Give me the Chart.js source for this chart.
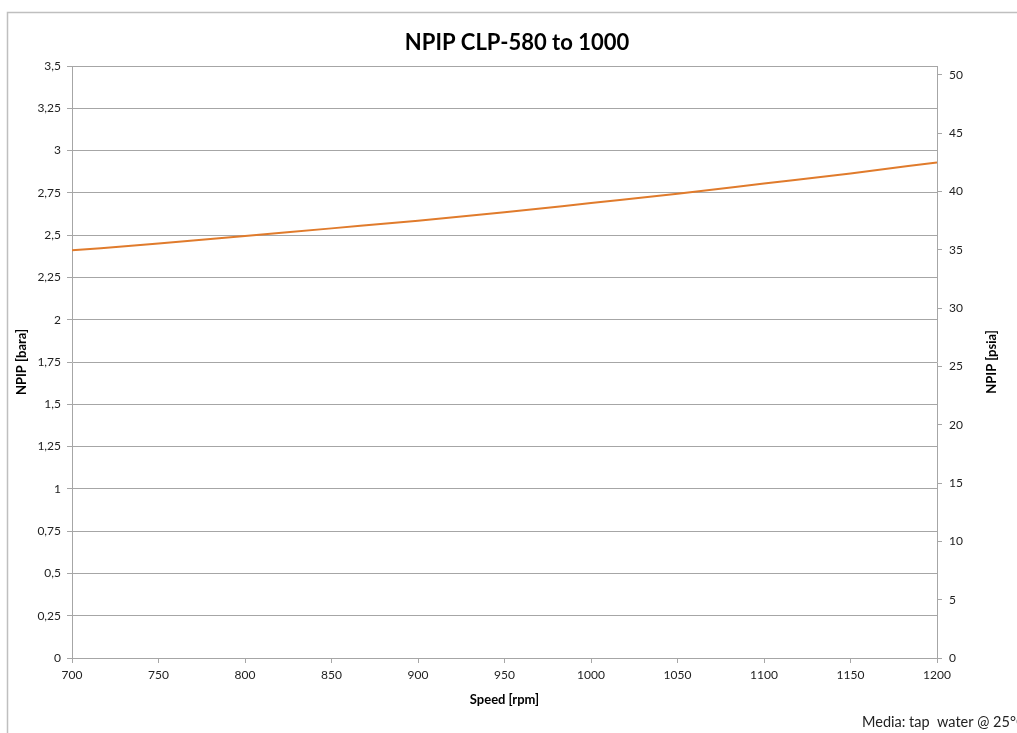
<!DOCTYPE html>
<html>
<head>
<meta charset="utf-8">
<script src="https://cdn.jsdelivr.net/npm/chart.js@4.4.1/dist/chart.umd.min.js"></script>
<style>
html,body{margin:0;padding:0;background:#fff;}
#wrap{width:1017px;height:733px;position:relative;}
</style>
</head>
<body>
<div id="wrap"><canvas id="c" width="1017" height="733"></canvas></div>
<script>
// Data
const speedRpm = [700, 750, 800, 850, 900, 950, 1000, 1050, 1100, 1150, 1200];
const npipBara = [2.41, 2.45, 2.495, 2.54, 2.585, 2.635, 2.69, 2.745, 2.805, 2.865, 2.93];
const xTicks = [700, 750, 800, 850, 900, 950, 1000, 1050, 1100, 1150, 1200];
const leftTicks = [0, 0.25, 0.5, 0.75, 1, 1.25, 1.5, 1.75, 2, 2.25, 2.5, 2.75, 3, 3.25, 3.5];
const rightTicks = [0, 5, 10, 15, 20, 25, 30, 35, 40, 45, 50];
const BAR_TO_PSI = 14.5038;

const titleText = 'NPIP CLP-580 to 1000';
const noteText = 'Media: tap  water @ 25°C';
const rightTitle = 'NPIP [psia]';

const FONT = 'Lato, "Open Sans", "Noto Sans", sans-serif';
const GRID = '#a6a6a6';
const TXT = '#222222';

const points = speedRpm.map((s, i) => ({x: s, y: npipBara[i]}));

const decorPlugin = {
  id: 'decor',
  beforeDraw(chart) {
    const ctx = chart.ctx;
    ctx.save();
    ctx.fillStyle = '#ffffff';
    ctx.fillRect(0, 0, chart.width, chart.height);
    ctx.strokeStyle = '#bfbfbf';
    ctx.lineWidth = 1.5;
    ctx.beginPath();
    ctx.moveTo(7.5, chart.height);
    ctx.lineTo(7.5, 12.5);
    ctx.lineTo(chart.width, 12.5);
    ctx.stroke();
    ctx.restore();
  },
  afterDraw(chart) {
    const ctx = chart.ctx;
    const ca = chart.chartArea;
    ctx.save();
    ctx.fillStyle = '#000';
    ctx.font = 'bold 22px ' + FONT;
    ctx.textAlign = 'center';
    ctx.textBaseline = 'middle';
    ctx.fillText(titleText, 517, 43);
    // right axis title, rotated like the left one
    ctx.save();
    ctx.translate(992, (ca.top + ca.bottom) / 2);
    ctx.rotate(-Math.PI / 2);
    ctx.font = 'bold 13px ' + FONT;
    ctx.fillText(rightTitle, 0, 0);
    ctx.restore();
    ctx.font = '14.5px ' + FONT;
    ctx.textAlign = 'left';
    ctx.fillStyle = TXT;
    ctx.fillText(noteText, 862, 722);
    ctx.restore();
  }
};

const fmt = v => String(v).replace('.', ',');

new Chart(document.getElementById('c'), {
  type: 'line',
  data: {
    datasets: [{
      data: points,
      borderColor: '#e07b2c',
      borderWidth: 2,
      pointRadius: 0,
      tension: 0.4,
      cubicInterpolationMode: 'monotone',
      fill: false,
      yAxisID: 'y'
    }]
  },
  options: {
    responsive: false,
    animation: false,
    devicePixelRatio: 1,
    layout: {padding: {top: 66, left: 0, right: 0, bottom: 0}},
    plugins: {legend: {display: false}, tooltip: {enabled: false}, title: {display: false}},
    scales: {
      x: {
        type: 'linear',
        min: 700, max: 1200,
        afterBuildTicks: s => { s.ticks = xTicks.map(v => ({value: v})); },
        afterFit: s => { s.height = 75; },
        grid: {drawOnChartArea: false, drawTicks: true, tickLength: 5, color: GRID},
        border: {color: GRID, width: 1},
        ticks: {color: TXT, font: {family: FONT, size: 12}, padding: 5, maxRotation: 0, callback: v => String(v)},
        title: {display: true, text: 'Speed [rpm]', color: '#000', font: {family: FONT, size: 13, weight: 'bold'}, padding: {top: 0, bottom: 25}}
      },
      y: {
        position: 'left',
        min: 0, max: 3.5,
        afterBuildTicks: s => { s.ticks = leftTicks.map(v => ({value: v})); },
        afterFit: s => { s.width = 72; },
        grid: {color: GRID, drawTicks: true, tickLength: 5},
        border: {color: GRID, width: 1},
        ticks: {color: TXT, font: {family: FONT, size: 12}, padding: 6, callback: v => fmt(v)},
        title: {display: true, text: 'NPIP [bara]', color: '#000', font: {family: FONT, size: 13, weight: 'bold'}, padding: {top: 14, bottom: 14}}
      },
      y2: {
        position: 'right',
        min: 0, max: 3.5 * BAR_TO_PSI,
        afterBuildTicks: s => { s.ticks = rightTicks.map(v => ({value: v})); },
        afterFit: s => { s.width = 80; },
        grid: {drawOnChartArea: false, drawTicks: true, tickLength: 5, color: GRID},
        border: {color: GRID, width: 1},
        ticks: {color: TXT, font: {family: FONT, size: 12}, padding: 7, callback: v => fmt(v)},
        title: {display: false}
      }
    }
  },
  plugins: [decorPlugin]
});
</script>
</body>
</html>
